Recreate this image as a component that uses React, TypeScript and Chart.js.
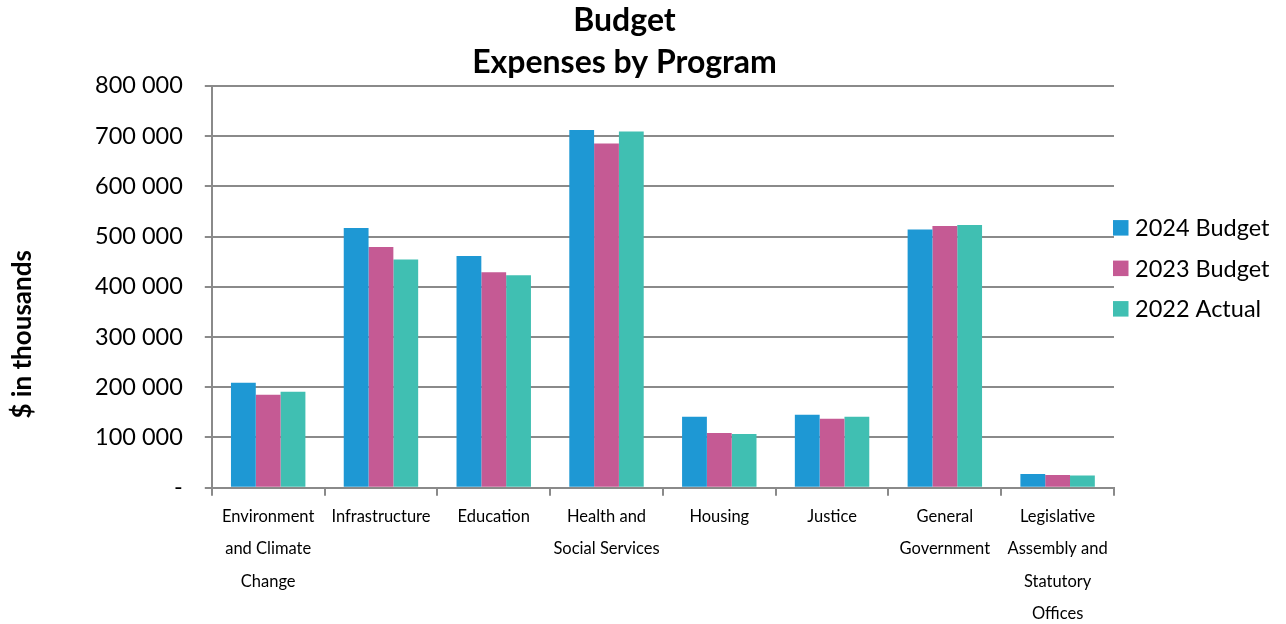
import React, { useEffect, useRef } from 'react';
import { Chart, registerables } from 'chart.js';

Chart.register(...registerables);

const categories: string[][] = [
  ['Environment', 'and Climate', 'Change'],
  ['Infrastructure'],
  ['Education'],
  ['Health and', 'Social Services'],
  ['Housing'],
  ['Justice'],
  ['General', 'Government'],
  ['Legislative', 'Assembly and', 'Statutory', 'Offices'],
];
const seriesNames = ['2024 Budget', '2023 Budget', '2022 Actual'];
const budget2024 = [209000, 517000, 461000, 712000, 141000, 145000, 514000, 27000];
const budget2023 = [185000, 479000, 429000, 685000, 109000, 137000, 521000, 25000];
const actual2022 = [191000, 454000, 423000, 709000, 107000, 141000, 523000, 24000];
const titleLines = ['Budget', 'Expenses by Program'];
const yAxisTitle = '$ in thousands';

const colors = ['#1E98D4', '#C55A94', '#40BFB2'];
const FONT = 'Lato, "Open Sans", sans-serif';

function fmt(v: number): string {
  if (v === 0) return '-';
  return String(Math.round(v)).replace(/\B(?=(\d{3})+(?!\d))/g, ' ');
}

// Legend drawn to the right of the plot area, using the chart's own datasets,
// plus the y-axis title placed as in the reference.
const sideDecor = {
  id: 'sideDecor',
  afterDraw(chart: any) {
    const { ctx, chartArea } = chart;
    const ds = chart.data.datasets;
    const spacing = 40.5;
    const midY = chartArea.top + 182.5;
    const boxX = chartArea.right - 1;
    const box = 15.5;
    ctx.save();
    ctx.font = `23.5px ${FONT}`;
    ctx.textBaseline = 'middle';
    ctx.textAlign = 'left';
    ds.forEach((d: any, i: number) => {
      const cy = midY + (i - (ds.length - 1) / 2) * spacing;
      ctx.fillStyle = d.backgroundColor;
      ctx.fillRect(boxX, cy - box / 2, box, box);
      ctx.fillStyle = '#000';
      ctx.fillText(d.label, boxX + 22, cy + 1);
    });
    ctx.restore();

    ctx.save();
    ctx.translate(23, chartArea.top + 248.5);
    ctx.rotate(-Math.PI / 2);
    ctx.font = `bold 26px ${FONT}`;
    ctx.textAlign = 'center';
    ctx.textBaseline = 'middle';
    ctx.fillStyle = '#000';
    ctx.fillText(yAxisTitle, 0, 0);
    ctx.restore();
  },
};

export default function App() {
  const ref = useRef<HTMLCanvasElement | null>(null);
  useEffect(() => {
    document.body.style.margin = '0';
    if (!ref.current) return;
    const data = [budget2024, budget2023, actual2022];
    const chart = new Chart(ref.current, {
      type: 'bar',
      data: {
        labels: categories,
        datasets: seriesNames.map((n, i) => ({
          label: n,
          data: data[i],
          backgroundColor: colors[i],
          borderWidth: 0,
          barPercentage: 1,
          categoryPercentage: 0.66,
        })),
      },
      plugins: [sideDecor],
      options: {
        animation: false,
        responsive: false,
        maintainAspectRatio: false,
        layout: { padding: { left: 73, right: 110, top: 0, bottom: -11 } },
        plugins: {
          title: {
            display: true,
            text: titleLines,
            color: '#000',
            font: { family: FONT, size: 32, weight: 'bold', lineHeight: 1.31 },
            padding: { top: 0, bottom: 2 },
          },
          legend: { display: false },
          tooltip: { enabled: false },
        },
        scales: {
          x: {
            grid: {
              display: true,
              drawOnChartArea: false,
              drawTicks: true,
              tickLength: 8,
              color: '#8a8a8a',
              lineWidth: 2,
              offset: true,
            },
            border: { display: true, color: '#8a8a8a', width: 2 },
            ticks: {
              color: '#000',
              maxRotation: 0,
              autoSkip: false,
              padding: 5,
              font: { family: FONT, size: 16.5, lineHeight: 1.96 },
            },
          },
          y: {
            min: 0,
            max: 800000,
            grid: {
              color: '#8a8a8a',
              lineWidth: 2,
              tickLength: 7,
            },
            border: { display: true, color: '#8a8a8a', width: 2 },
            ticks: {
              stepSize: 100000,
              color: '#000',
              padding: 22,
              font: { family: FONT, size: 23.5 },
              callback: (v: any) => fmt(Number(v)),
            },
          },
          legendSpace: {
            type: 'linear',
            position: 'right',
            display: true,
            grid: { display: false, drawOnChartArea: false },
            border: { display: false },
            ticks: { display: false },
            afterFit: (scale: any) => {
              scale.width = 62;
            },
          },
        },
      } as any,
    });
    return () => chart.destroy();
  }, []);
  return (
    <div style={{ width: 1286, height: 624 }}>
      <canvas ref={ref} width={1286} height={624} style={{ display: 'block' }} />
    </div>
  );
}
